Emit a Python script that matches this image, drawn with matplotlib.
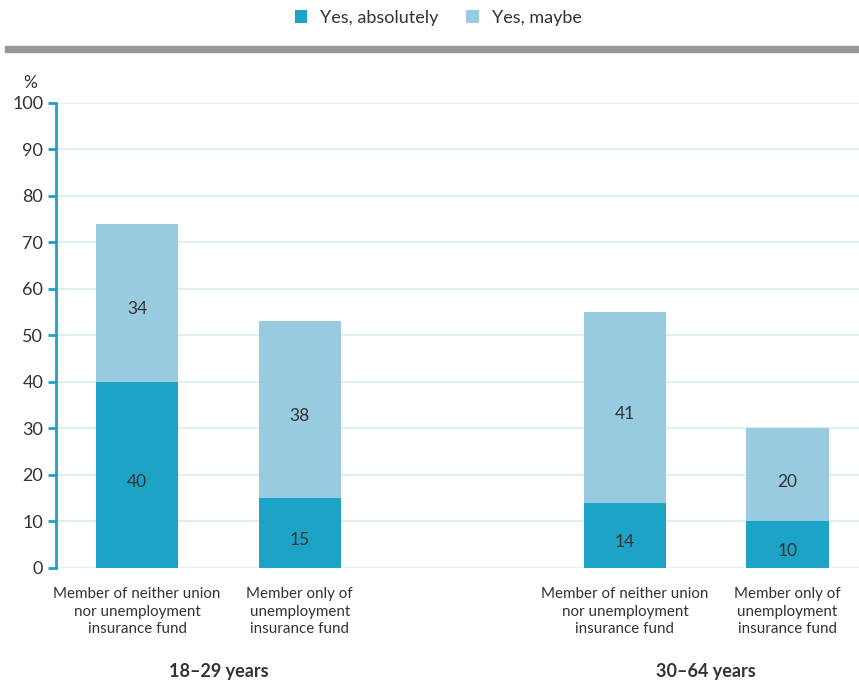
import matplotlib.pyplot as plt
import numpy as np

plt.rcParams['font.family'] = ['Lato', 'DejaVu Sans']

# data
categories = ["Member of neither union\nnor unemployment\ninsurance fund",
              "Member only of\nunemployment\ninsurance fund",
              "Member of neither union\nnor unemployment\ninsurance fund",
              "Member only of\nunemployment\ninsurance fund"]
groups = ["18–29 years", "30–64 years"]
absolutely = [40, 15, 14, 10]
maybe = [34, 38, 41, 20]
positions = [0, 1, 3, 4]

dark = '#1ca3c6'
light = '#98cbe0'
grid_col = '#d8ecf5'
text_col = '#333333'

fig = plt.figure(figsize=(8.59, 6.84), dpi=100)
ax = fig.add_axes([0.065, 0.1696, 0.935, 0.680])

x = np.array(positions)
ax.bar(x, absolutely, width=0.505, color=dark, zorder=3, label='Yes, absolutely')
ax.bar(x, maybe, width=0.505, bottom=absolutely, color=light, zorder=3, label='Yes, maybe')

# labels sit a touch below the segment middle, as in the original
for xi, a, m in zip(x, absolutely, maybe):
    ax.text(xi, a / 2 - 1.1, str(a), ha='center', va='center_baseline', fontsize=12.5, color=text_col, zorder=4)
    ax.text(xi, a + m / 2 - 1.1, str(m), ha='center', va='center_baseline', fontsize=12.5, color=text_col, zorder=4)

ax.set_xlim(-0.5, 4.44)
ax.set_ylim(0, 100)
ax.set_yticks(range(0, 101, 10))
ax.yaxis.grid(True, color=grid_col, linewidth=1.2, zorder=0)
ax.set_axisbelow(True)
for s in ['top', 'right', 'bottom']:
    ax.spines[s].set_visible(False)
ax.spines['left'].set_color(dark)
ax.spines['left'].set_linewidth(2)
ax.tick_params(axis='y', colors=dark, length=6, width=2, labelsize=13, labelcolor=text_col, pad=3)
ax.set_xticks(x)
ax.set_xticklabels(categories, fontsize=10.9, color=text_col, linespacing=1.3)
ax.tick_params(axis='x', length=0, pad=14)

ax.text(-0.5 - 0.16, 104.2, '%', ha='center', va='center', fontsize=12.5, color=text_col,
        clip_on=False)

for g, cx in zip(groups, [0.5, 3.5]):
    ax.text(cx, -22.3, g, ha='center', va='center', fontsize=13, fontweight='bold', color=text_col,
            clip_on=False)

# gray band below legend
fig.patches.append(plt.Rectangle((5 / 859, 1 - 52 / 684), 1, 6 / 684, transform=fig.transFigure,
                                 color='#98989c', zorder=1))

fig.legend(loc='center', bbox_to_anchor=(0.51, 1 - 18 / 684), ncol=2, frameon=False,
           fontsize=13, handlelength=0.7, handleheight=0.7, columnspacing=1.55, handletextpad=0.7,
           labelcolor=text_col)

fig.savefig('out.png', dpi=100)
